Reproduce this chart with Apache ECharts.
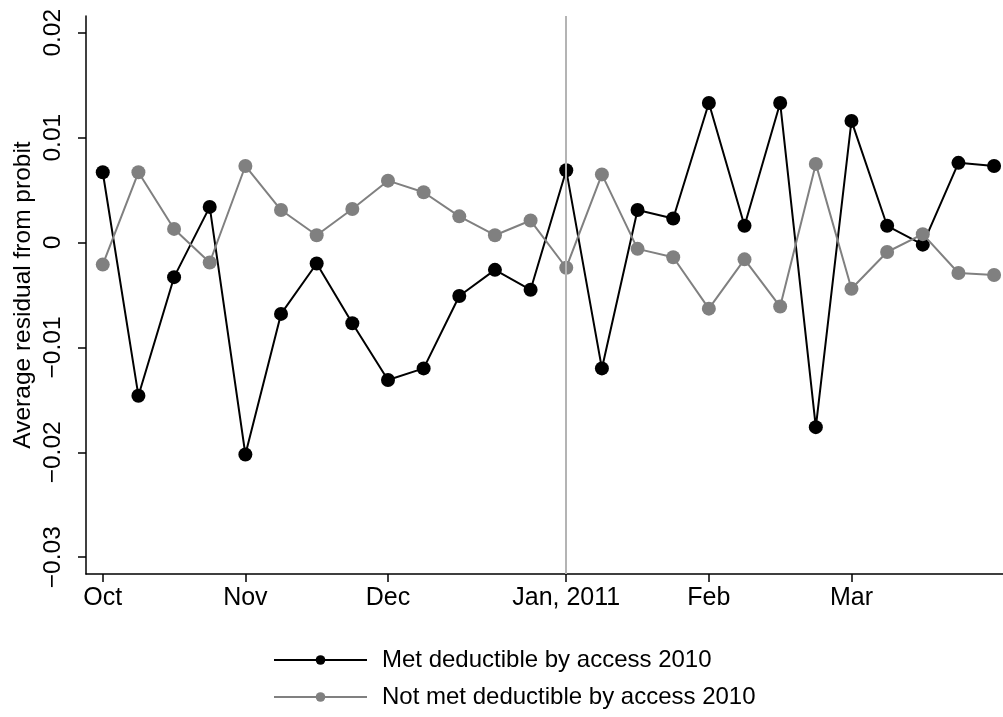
<!DOCTYPE html>
<html>
<head>
<meta charset="utf-8">
<script src="https://cdn.jsdelivr.net/npm/echarts@6/dist/echarts.min.js"></script>
<style>
  html, body { margin: 0; padding: 0; background: #fff; }
  #chart { width: 1003px; height: 717px; }
</style>
</head>
<body>
<div id="chart"></div>
<script>
// Week index (0 = first week of October 2010)
const weekIndex = [0,1,2,3,4,5,6,7,8,9,10,11,12,13,14,15,16,17,18,19,20,21,22,23,24,25];
const metDeductible = [
  0.0067, -0.0146, -0.0033, 0.0034, -0.0202, -0.0068, -0.0020, -0.0077,
  -0.0131, -0.0120, -0.0051, -0.0026, -0.0045, 0.0069, -0.0120, 0.0031,
  0.0023, 0.0133, 0.0016, 0.0133, -0.0176, 0.0116, 0.0016, -0.0002,
  0.0076, 0.0073
];
const notMetDeductible = [
  -0.0021, 0.0067, 0.0013, -0.0019, 0.0073, 0.0031, 0.0007, 0.0032,
  0.0059, 0.0048, 0.0025, 0.0007, 0.0021, -0.0024, 0.0065, -0.0006,
  -0.0014, -0.0063, -0.0016, -0.0061, 0.0075, -0.0044, -0.0009, 0.0008,
  -0.0029, -0.0031
];
const xTickValues = [0, 4, 8, 13, 17, 21];
const xTickLabels = ['Oct', 'Nov', 'Dec', 'Jan, 2011', 'Feb', 'Mar'];
const yTickValues = [-0.03, -0.02, -0.01, 0, 0.01, 0.02];
const yTickLabels = ['\u22120.03', '\u22120.02', '\u22120.01', '0', '0.01', '0.02'];
const seriesNames = ['Met deductible by access 2010', 'Not met deductible by access 2010'];
const referenceWeek = 13;

const FONT = 'Liberation Sans, Arial, Helvetica, sans-serif';

function pairs(vals) { return weekIndex.map((w, i) => [w, vals[i]]); }

const chart = echarts.init(document.getElementById('chart'), null, { renderer: 'canvas' });
chart.setOption({
  animation: false,
  backgroundColor: '#ffffff',
  grid: { left: 86, right: 0, top: 16, bottom: 143, containLabel: false },
  legend: {
    orient: 'vertical',
    left: 273,
    top: 648,
    width: 600,
    height: 69,
    padding: 0,
    itemWidth: 93,
    itemHeight: 12,
    itemGap: 13,
    textStyle: { fontFamily: FONT, fontSize: 24, color: '#000', padding: [0, 0, 0, 10] },
    data: seriesNames
  },
  xAxis: {
    type: 'value',
    min: -0.47,
    max: 25.25,
    splitLine: { show: false },
    axisLine: { show: true, onZero: false, lineStyle: { color: '#000', width: 1.5 } },
    axisTick: { show: true, length: 8, customValues: xTickValues, lineStyle: { color: '#000', width: 1.5 } },
    axisLabel: {
      customValues: xTickValues,
      margin: 12,
      fontFamily: FONT, fontSize: 25, color: '#000',
      formatter: v => { const i = xTickValues.indexOf(v); return i >= 0 ? xTickLabels[i] : ''; }
    }
  },
  yAxis: {
    type: 'value',
    min: -0.0316,
    max: 0.0216,
    name: 'Average residual from probit',
    nameLocation: 'middle',
    nameGap: 50,
    nameRotate: 90,
    nameMoveOverlap: false,
    nameTextStyle: { fontFamily: FONT, fontSize: 24.5, color: '#000' },
    splitLine: { show: false },
    axisLine: { show: true, onZero: false, lineStyle: { color: '#000', width: 1.5 } },
    axisTick: { show: true, length: 8, customValues: yTickValues, lineStyle: { color: '#000', width: 1.5 } },
    axisLabel: {
      customValues: yTickValues,
      rotate: 90,
      margin: 20,
      fontFamily: FONT, fontSize: 24.5, color: '#000',
      formatter: v => {
        for (let i = 0; i < yTickValues.length; i++) {
          if (Math.abs(yTickValues[i] - v) < 1e-9) return yTickLabels[i];
        }
        return '';
      }
    }
  },
  series: [
    {
      name: 'ref',
      type: 'line',
      data: [],
      z: 1,
      silent: true,
      markLine: {
        silent: true,
        symbol: ['none', 'none'],
        label: { show: false },
        lineStyle: { color: '#b4b4b4', width: 2, type: 'solid' },
        data: [{ xAxis: referenceWeek }]
      }
    },
    {
      name: seriesNames[0],
      type: 'line',
      data: pairs(metDeductible),
      z: 3,
      symbol: 'circle',
      symbolSize: 14,
      showAllSymbol: true,
      lineStyle: { color: '#000', width: 2 },
      itemStyle: { color: '#000' }
    },
    {
      name: seriesNames[1],
      type: 'line',
      data: pairs(notMetDeductible),
      z: 4,
      symbol: 'circle',
      symbolSize: 14,
      showAllSymbol: true,
      lineStyle: { color: '#808080', width: 2 },
      itemStyle: { color: '#808080' }
    }
  ]
});
</script>
</body>
</html>
